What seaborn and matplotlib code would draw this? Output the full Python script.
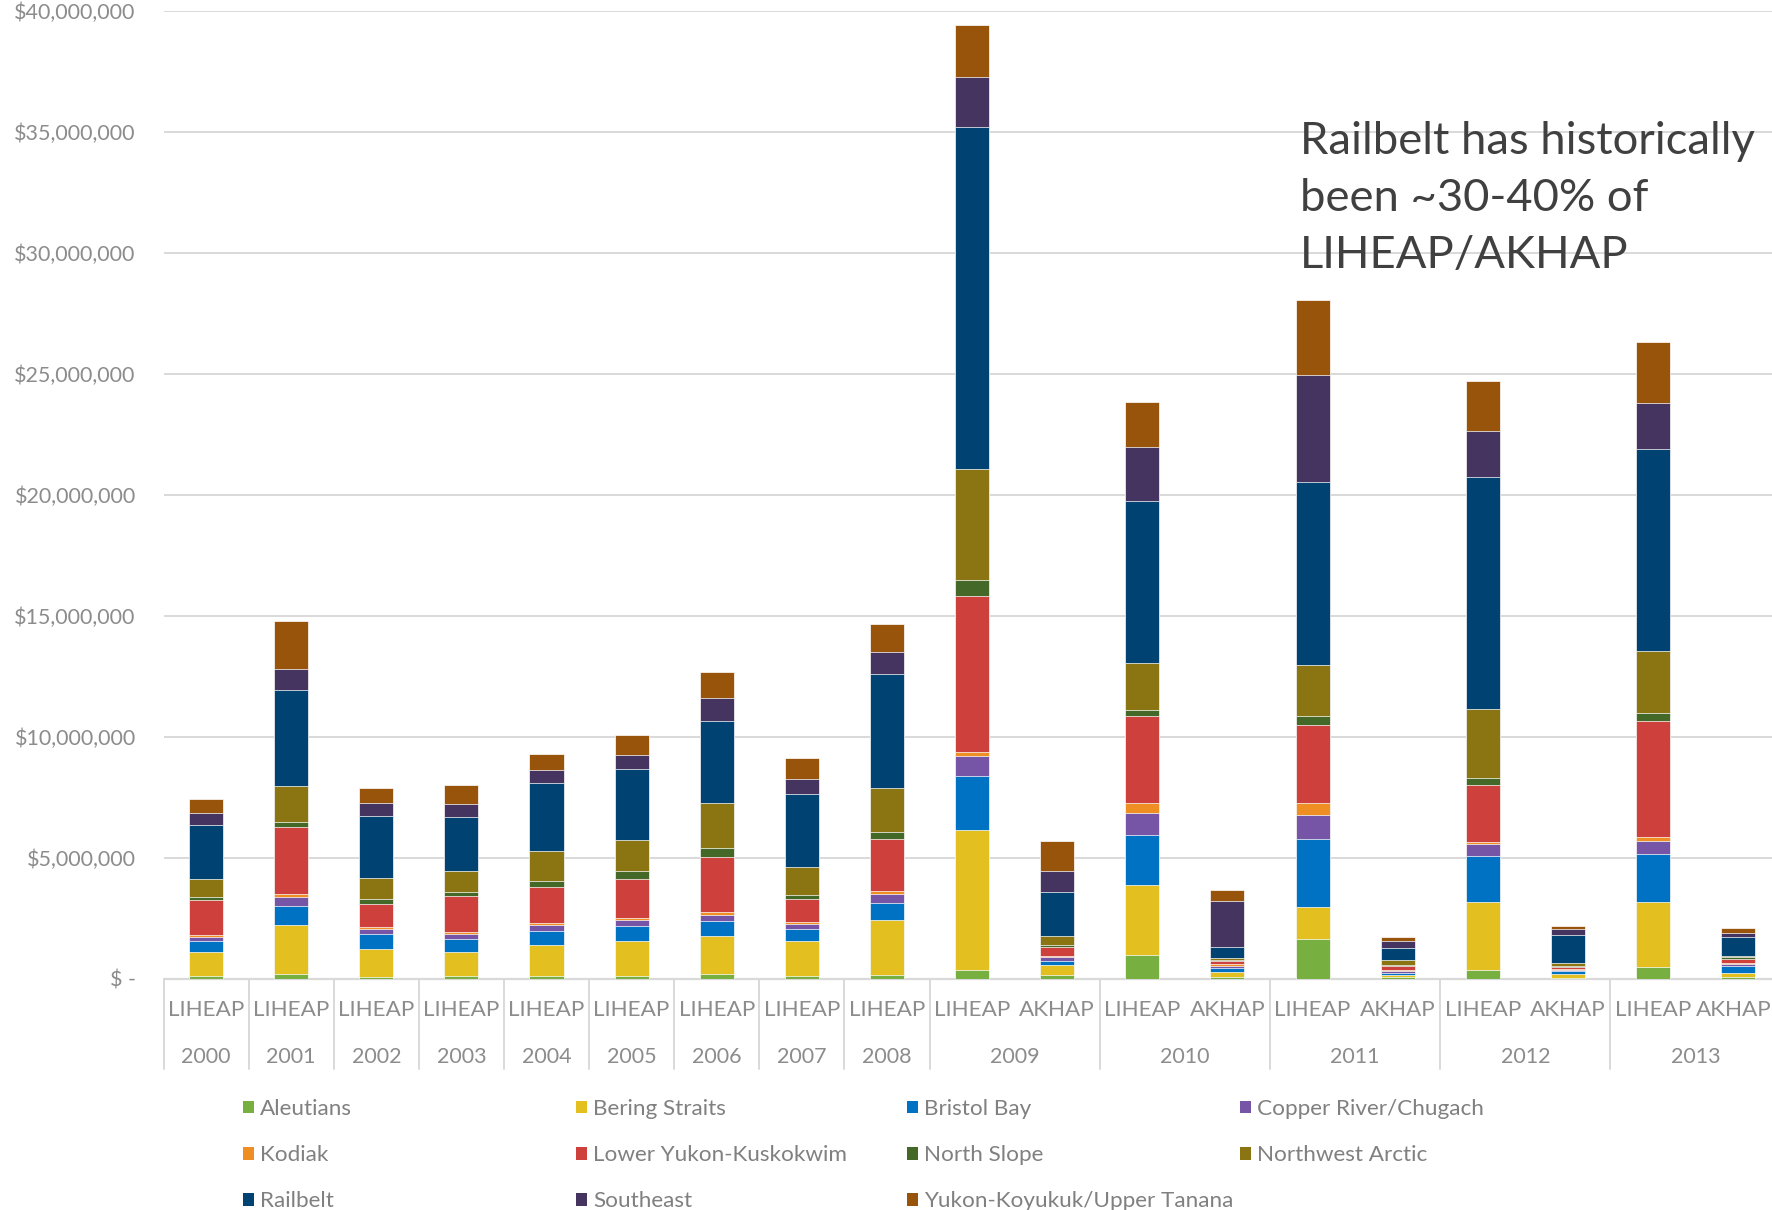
import numpy as np
import pandas as pd
import matplotlib
matplotlib.use("Agg")
import matplotlib.pyplot as plt
import seaborn as sns
from matplotlib.patches import Patch
from matplotlib.transforms import blended_transform_factory
from matplotlib.ticker import FuncFormatter

# ---------------- data (values in $ millions) ----------------
slot_years = ["2000", "2001", "2002", "2003", "2004", "2005", "2006", "2007", "2008",
              "2009", "2009", "2010", "2010", "2011", "2011", "2012", "2012", "2013", "2013"]
slot_programs = ["LIHEAP"] * 9 + ["LIHEAP", "AKHAP"] * 5

regions = ["Aleutians", "Bering Straits", "Bristol Bay", "Copper River/Chugach",
           "Kodiak", "Lower Yukon-Kuskokwim", "North Slope", "Northwest Arctic",
           "Railbelt", "Southeast", "Yukon-Koyukuk/Upper Tanana"]

aleutians = [0.10, 0.17, 0.08, 0.11, 0.10, 0.11, 0.17, 0.10, 0.14, 0.35, 0.13, 0.98, 0.07, 1.64, 0.05, 0.35, 0.03, 0.48, 0.05]
bering    = [1.00, 2.04, 1.12, 0.99, 1.29, 1.46, 1.60, 1.43, 2.27, 5.80, 0.42, 2.90, 0.21, 1.33, 0.08, 2.80, 0.17, 2.67, 0.19]
bristol   = [0.43, 0.77, 0.66, 0.52, 0.58, 0.61, 0.59, 0.50, 0.73, 2.23, 0.19, 2.06, 0.15, 2.78, 0.11, 1.92, 0.09, 2.00, 0.27]
copper    = [0.18, 0.40, 0.19, 0.22, 0.25, 0.25, 0.28, 0.23, 0.36, 0.82, 0.13, 0.90, 0.10, 1.00, 0.07, 0.48, 0.06, 0.52, 0.09]
kodiak    = [0.07, 0.11, 0.07, 0.07, 0.08, 0.07, 0.10, 0.07, 0.10, 0.18, 0.05, 0.42, 0.05, 0.52, 0.05, 0.11, 0.05, 0.17, 0.06]
lyk       = [1.48, 2.78, 0.98, 1.49, 1.49, 1.63, 2.29, 0.94, 2.18, 6.44, 0.40, 3.59, 0.14, 3.19, 0.15, 2.33, 0.09, 4.82, 0.16]
nslope    = [0.10, 0.22, 0.17, 0.19, 0.26, 0.33, 0.36, 0.17, 0.26, 0.66, 0.05, 0.26, 0.06, 0.38, 0.04, 0.31, 0.04, 0.33, 0.08]
nwarctic  = [0.74, 1.46, 0.88, 0.87, 1.21, 1.27, 1.87, 1.16, 1.83, 4.57, 0.40, 1.93, 0.05, 2.13, 0.22, 2.83, 0.13, 2.55, 0.05]
railbelt  = [2.25, 3.97, 2.55, 2.23, 2.82, 2.95, 3.40, 3.02, 4.70, 14.16, 1.79, 6.70, 0.49, 7.57, 0.49, 9.62, 1.14, 8.37, 0.76]
southeast = [0.51, 0.87, 0.55, 0.52, 0.54, 0.56, 0.95, 0.61, 0.91, 2.06, 0.90, 2.24, 1.90, 4.42, 0.31, 1.87, 0.24, 1.90, 0.18]
yukon     = [0.58, 2.00, 0.63, 0.80, 0.66, 0.83, 1.05, 0.88, 1.18, 2.14, 1.24, 1.85, 0.42, 3.09, 0.13, 2.07, 0.15, 2.49, 0.20]

colors = ["#77b041", "#e3bf1f", "#0072c4", "#7655a6", "#ef8f23", "#cd403b",
          "#446828", "#8b7512", "#004373", "#45345f", "#97540a"]

annotation = "Railbelt has historically\nbeen ~30-40% of\nLIHEAP/AKHAP"

# ---------------- figure ----------------
sns.set_theme(style="white")
plt.rcParams["font.family"] = ["Lato", "DejaVu Sans"]

W, H = 1772, 1210
fig = plt.figure(figsize=(W / 100, H / 100), dpi=100)
ax_left, ax_right = 163.5, 1780.7
ax_top, ax_bottom = 11.0, 978.5
ax = fig.add_axes([ax_left / W, 1 - ax_bottom / H, (ax_right - ax_left) / W, (ax_bottom - ax_top) / H])

series = [aleutians, bering, bristol, copper, kodiak, lyk, nslope, nwarctic, railbelt, southeast, yukon]
values = np.array(series) * 1e6
cum = np.cumsum(values, axis=0)
slots = [f"{y} {p}" for y, p in zip(slot_years, slot_programs)]

for i in reversed(range(len(regions))):
    df = pd.DataFrame({"slot": slots, "value": cum[i]})
    sns.barplot(data=df, x="slot", y="value", order=slots, color=colors[i],
                saturation=1, width=0.4, edgecolor="white", linewidth=0.5,
                errorbar=None, ax=ax, zorder=3)

ax.set_xlim(-0.5, len(slots) - 0.5)
ax.set_ylim(0, 40e6)
ax.set_yticks(np.arange(0, 40e6 + 1, 5e6))
ax.yaxis.set_major_formatter(FuncFormatter(lambda v, p: "$ -" if v == 0 else f"${v:,.0f}"))
ax.tick_params(axis="y", length=0, pad=20, labelsize=15.5, labelcolor="#8c8c8c")
ax.tick_params(axis="x", length=0)
ax.set_xticklabels([])
ax.set_xlabel("")
ax.set_ylabel("")
for s in ax.spines.values():
    s.set_visible(False)
ax.yaxis.grid(True, color="#d9d9d9", linewidth=1.4)
ax.set_axisbelow(True)
ax.axhline(0, color="#d9d9d9", linewidth=1.6, clip_on=False, zorder=2)

# two-level category axis
trans = blended_transform_factory(ax.transData, fig.transFigure)
y_prog = 1 - 1010 / H
y_year = 1 - 1057 / H
y_sep_top = 1 - ax_bottom / H
y_sep_bot = 1 - 1069 / H
n = len(slot_programs)
for i, p in enumerate(slot_programs):
    xpos = i - 0.05 if i == n - 1 else i   # keep the last label inside the figure
    ax.text(xpos, y_prog, p, transform=trans, ha="center", va="center",
            fontsize=16.2, color="#8c8c8c", clip_on=False)
years_unique = []
for y in slot_years:
    if y not in years_unique:
        years_unique.append(y)
idx = np.arange(len(slot_years))
sep_positions = []
for y in years_unique:
    members = idx[np.array(slot_years) == y]
    ax.text(members.mean(), y_year, y, transform=trans, ha="center", va="center",
            fontsize=15.5, color="#8c8c8c", clip_on=False)
    sep_positions.append(members.min() - 0.5)
for xs in sep_positions:
    ax.plot([xs, xs], [y_sep_top, y_sep_bot], transform=trans, color="#d9d9d9",
            linewidth=1.4, clip_on=False)

# annotation
fig.text(1300 / W, 1 - 121 / H, annotation, ha="left", va="top", fontsize=32.7,
         color="#404040", linespacing=1.49)

# legend laid out in 4 columns (row-major order like the reference)
col_x = [243, 576, 907, 1240]
handles = [Patch(facecolor=c, edgecolor="none") for c in colors]
for c in range(4):
    ids = [k for k in range(len(regions)) if k % 4 == c]
    leg = fig.legend([handles[k] for k in ids], [regions[k] for k in ids],
                     loc="upper left", bbox_to_anchor=(col_x[c] / W, 1 - 1099 / H),
                     frameon=False, fontsize=16.2, handlelength=0.5, handleheight=0.5,
                     handletextpad=0.25, labelspacing=1.16, borderpad=0, borderaxespad=0)
    for t in leg.get_texts():
        t.set_color("#808080")

fig.savefig("out.png", dpi=100, facecolor="white")
